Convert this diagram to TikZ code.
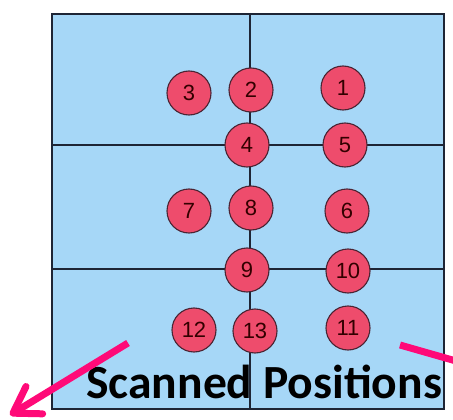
\documentclass[tikz,border=0pt]{standalone}
\usepackage{fontspec}
\setmainfont{Liberation Sans}
\newfontfamily\titlefont{Carlito}
\usetikzlibrary{arrows.meta}
\definecolor{boxfill}{HTML}{A6D7F7}
\definecolor{gridline}{HTML}{1E2535}
\definecolor{dotfill}{HTML}{EE4C6C}
\definecolor{dotdraw}{HTML}{4A2433}
\definecolor{arrowpink}{HTML}{FF0A78}
\tikzset{
  posdot/.style={circle, draw=dotdraw, line width=1.1pt, fill=dotfill, minimum size=44pt, inner sep=0pt, font=\fontsize{22}{24}\selectfont, text=black!80!red},
  gridln/.style={draw=gridline, line width=1.3pt},
  pinkarrow/.style={draw=arrowpink, line width=7pt},
}
\begin{document}
\begin{tikzpicture}[x=1pt,y=-1pt]
\useasboundingbox (0,0) rectangle (453,420);
% box
\node[draw=gridline, line width=1.6pt, fill=boxfill, minimum width=392pt, minimum height=395pt, inner sep=0pt, anchor=north west] (box) at (51,13) {};
\coordinate (vt) at (250,13);
\coordinate (vb) at (250,408);
\coordinate (h1l) at (51,145);
\coordinate (h1r) at (445,145);
\coordinate (h2l) at (51,269);
\coordinate (h2r) at (445,269);
\draw[gridln] (vt) -- (vb);
\draw[gridln] (h1l) -- (h1r);
\draw[gridln] (h2l) -- (h2r);
% positions
\node[posdot] (p3) at (189,93) {3};
\node[posdot] (p2) at (251,90) {2};
\node[posdot] (p1) at (343,88) {1};
\node[posdot] (p4) at (247,145) {4};
\node[posdot] (p5) at (345,145) {5};
\node[posdot] (p7) at (189,211) {7};
\node[posdot] (p8) at (251,208) {8};
\node[posdot] (p6) at (347,211) {6};
\node[posdot] (p9) at (247,270) {9};
\node[posdot] (p10) at (348,271) {10};
\node[posdot] (p12) at (194,330) {12};
\node[posdot] (p13) at (255,331) {13};
\node[posdot] (p11) at (348,328) {11};
% title
\node[anchor=base west, inner sep=0pt, font=\titlefont\bfseries\fontsize{47.6}{50}\selectfont] (title) at (86,398) {Scanned Positions};
% arrows
\coordinate (a1s) at (128,343);
\coordinate (a1e) at (10,415);
\draw[pinkarrow, -{Straight Barb[length=25pt, width=32pt, line width=7pt, round]}] (a1s) -- (a1e);
\coordinate (a2s) at (400,345);
\coordinate (a2e) at (456,361);
\draw[pinkarrow] (a2s) -- (a2e);
\end{tikzpicture}
\end{document}
